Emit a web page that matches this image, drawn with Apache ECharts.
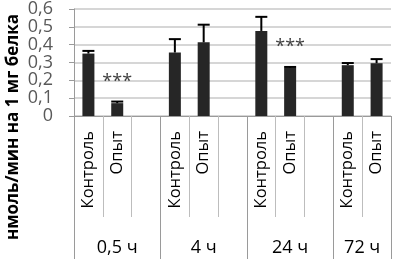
<!DOCTYPE html>
<html>
<head>
<meta charset="utf-8">
<script src="https://cdn.jsdelivr.net/npm/echarts@6/dist/echarts.min.js"></script>
<style>
  html, body { margin: 0; padding: 0; background: #fff; }
  #chart { width: 394px; height: 259px; }
</style>
</head>
<body>
<div id="chart"></div>
<script>
// группы по времени
var groups = ['0,5 ч', '4 ч', '24 ч', '72 ч'];
var barNames = ['Контроль', 'Опыт'];
// средние значения
var control = [0.35, 0.356, 0.477, 0.285];
var experiment = [0.072, 0.413, 0.27, 0.296];
// верхняя ошибка
var controlErr = [0.015, 0.075, 0.079, 0.012];
var experimentErr = [0.009, 0.099, 0.005, 0.023];
// *** — достоверное отличие
var significant = [true, false, true, false];

var yTicks = { min: 0, max: 0.6, step: 0.1 };

var font = 'Open Sans';

// слоты: Контроль, Опыт, пустой (после последней группы пустого нет)
var slots = [];
var barData = [];
var errData = [];
var groupStart = [];
groups.forEach(function (g, i) {
  groupStart.push(slots.length);
  [control[i], experiment[i]].forEach(function (v, k) {
    var item = { value: v };
    if (k === 1 && significant[i]) {
      item.label = { show: true, formatter: '***' };
    }
    errData.push([slots.length, v, k === 0 ? controlErr[i] : experimentErr[i]]);
    slots.push(barNames[k]);
    barData.push(item);
  });
  if (i < groups.length - 1) {
    slots.push('');
    barData.push('-');
  }
});
groupStart.push(slots.length);

// ось групп: половинки слотов, boundaryGap false
var halfCats = [];
for (var h = 0; h <= slots.length * 2; h++) halfCats.push('');
var boundaries = {};
groups.forEach(function (g, i) {
  var mid = groupStart[i] + groupStart[i + 1];
  halfCats[mid] = g;
  boundaries[groupStart[i] * 2] = true;
});
boundaries[slots.length * 2] = true;

var chart = echarts.init(document.getElementById('chart'));
chart.setOption({
  animation: false,
  grid: { left: 74, right: 0, top: 7, bottom: 143 },
  graphic: [{
    type: 'text',
    x: 13,
    y: 127,
    rotation: Math.PI / 2,
    style: {
      text: 'нмоль/мин на 1 мг белка',
      font: 'bold 17px "' + font + '"',
      fill: '#000',
      textAlign: 'center',
      textVerticalAlign: 'middle'
    }
  }],
  xAxis: [{
    type: 'category',
    data: slots,
    axisLine: { lineStyle: { color: '#9a9a9a', width: 1 } },
    axisTick: { show: true, interval: 0, length: 101, lineStyle: { color: '#bdbdbd' } },
    axisLabel: {
      interval: 0, rotate: 90, margin: 15,
      color: '#000', fontSize: 16.5, fontFamily: font
    }
  }, {
    type: 'category',
    data: halfCats,
    boundaryGap: false,
    position: 'bottom',
    axisLine: { show: false },
    axisTick: {
      show: true, length: 143,
      interval: function (idx) { return !!boundaries[idx]; },
      lineStyle: { color: '#9a9a9a' }
    },
    axisLabel: {
      interval: 0, margin: 123,
      color: '#000', fontSize: 18, fontFamily: font
    }
  }],
  yAxis: {
    type: 'value',
    min: yTicks.min,
    max: yTicks.max,
    interval: yTicks.step,
    axisLine: { show: true, lineStyle: { color: '#9a9a9a' } },
    axisTick: { show: true, length: 5, lineStyle: { color: '#9a9a9a' } },
    splitLine: { lineStyle: { color: '#c8c8c8', width: 1.5 } },
    axisLabel: {
      margin: 21, showMinLabel: true, showMaxLabel: true,
      color: '#595959', fontSize: 18, fontFamily: font,
      formatter: function (v) { return String(+v.toFixed(1)).replace('.', ','); }
    }
  },
  series: [{
    type: 'bar',
    data: barData,
    barWidth: 12,
    itemStyle: { color: '#262626' },
    label: {
      show: false, position: 'top', distance: 12,
      color: '#404040', fontSize: 18, fontFamily: font
    }
  }, {
    type: 'custom',
    data: errData,
    z: 3,
    renderItem: function (params, api) {
      var x = api.value(0);
      var v = api.value(1);
      var e = api.value(2);
      var p0 = api.coord([x, v]);
      var p1 = api.coord([x, v + e]);
      var half = 6;
      var style = { stroke: '#000', lineWidth: 2 };
      return {
        type: 'group',
        children: [
          { type: 'line', shape: { x1: p0[0], y1: p0[1], x2: p1[0], y2: p1[1] }, style: style },
          { type: 'line', shape: { x1: p1[0] - half, y1: p1[1], x2: p1[0] + half, y2: p1[1] }, style: style }
        ]
      };
    }
  }]
});
</script>
</body>
</html>
